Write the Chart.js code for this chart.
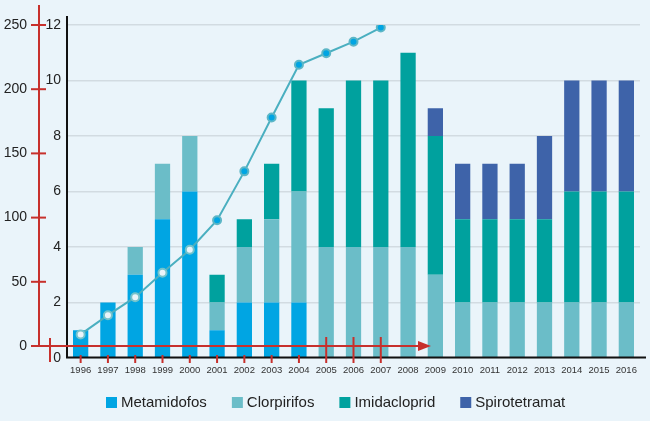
<!DOCTYPE html>
<html>
<head>
<meta charset="utf-8">
<script src="https://cdn.jsdelivr.net/npm/chart.js@4"></script>
<style>
  body { margin: 0; background: #eaf4fa; }
  #wrap { width: 650px; height: 421px; position: relative; }
</style>
</head>
<body>
<div id="wrap"><canvas id="myChart"></canvas></div>
<script>
'use strict';

// categories
const years = ['1996','1997','1998','1999','2000','2001','2002','2003','2004','2005','2006',
  '2007','2008','2009','2010','2011','2012','2013','2014','2015','2016'];

// stacked bars (left axis, 0-12)
const metamidofos   = [1,2,3,5,6,1,2,2,2,0,0,0,0,0,0,0,0,0,0,0,0];
const clorpirifos   = [0,0,1,2,2,1,2,3,4,4,4,4,4,3,2,2,2,2,2,2,2];
const imidacloprid  = [0,0,0,0,0,1,1,2,4,5,6,6,7,5,3,3,3,3,4,4,4];
const spirotetramat = [0,0,0,0,0,0,0,0,0,0,0,0,0,1,2,2,2,3,4,4,4];

// line (red axis, 0-250)
const lineValues = [9,24,38,57,75,98,136,178,219,228,237,248,
  null,null,null,null,null,null,null,null,null];

// tick labels
const redTicks = [0, 50, 100, 150, 200, 250];
const leftMax = 12;
const leftStep = 2;

const FONT = "'Liberation Sans', Arial, sans-serif";
const RED = '#c7302c';
const BG = '#eaf4fa';

let colors = {
  'Metamidofos': '#00a5e3',
  'Clorpirifos': '#6bbdc8',
  'Imidacloprid': '#00a19e',
  'Spirotetramat': '#3e63a9'
};

function barSet(label, data){
  return {
    type: 'bar',
    label: label,
    data: data,
    backgroundColor: colors[label],
    yAxisID: 'y',
    order: 1,
    barPercentage: 0.56,
    categoryPercentage: 1
  };
}

// black axes + red second axis drawn over the bars
const axesPlugin = {
  id: 'axesPlugin',
  afterDatasetsDraw(chart){
    const ctx = chart.ctx;
    const area = chart.chartArea;
    const xs = chart.scales.x;
    const y2 = chart.scales.y2;
    ctx.save();

    // black axes
    ctx.strokeStyle = '#111';
    ctx.lineWidth = 2;
    ctx.beginPath();
    ctx.moveTo(area.left, 16);
    ctx.lineTo(area.left, area.bottom);
    ctx.moveTo(area.left - 1, area.bottom - 0.5);
    ctx.lineTo(646, area.bottom - 0.5);
    ctx.stroke();

    // red vertical axis
    const axisX = 39;
    const zeroY = y2.getPixelForValue(0);
    ctx.strokeStyle = RED;
    ctx.beginPath();
    ctx.moveTo(axisX, 5);
    ctx.lineTo(axisX, zeroY);
    ctx.stroke();

    ctx.font = '14px ' + FONT;
    ctx.fillStyle = '#222';
    ctx.textAlign = 'right';
    ctx.textBaseline = 'middle';
    for(let i = 0; i < redTicks.length; i++){
      let ty = y2.getPixelForValue(redTicks[i]);
      ctx.beginPath();
      ctx.moveTo(31, ty);
      ctx.lineTo(46, ty);
      ctx.stroke();
      ctx.fillText(String(redTicks[i]), 27, ty);
    }

    // red horizontal arrow
    ctx.beginPath();
    ctx.moveTo(31, zeroY);
    ctx.lineTo(420, zeroY);
    ctx.stroke();
    ctx.fillStyle = RED;
    ctx.beginPath();
    ctx.moveTo(418, zeroY - 5);
    ctx.lineTo(431, zeroY);
    ctx.lineTo(418, zeroY + 5);
    ctx.closePath();
    ctx.fill();

    // origin mark
    ctx.beginPath();
    ctx.moveTo(50, zeroY - 8);
    ctx.lineTo(50, zeroY + 16);
    ctx.stroke();

    // year ticks where the line has data
    for(let i = 0; i < lineValues.length; i++){
      if(lineValues[i] === null) continue;
      let tx = xs.getPixelForValue(i);
      ctx.beginPath();
      ctx.moveTo(tx, i >= 9 ? zeroY - 9 : area.bottom - 3);
      ctx.lineTo(tx, area.bottom + 5);
      ctx.stroke();
    }
    ctx.restore();
  },
  afterDraw(chart){
    // legend for the bar series
    const ctx = chart.ctx;
    ctx.save();
    ctx.font = '15px ' + FONT;
    ctx.textAlign = 'left';
    ctx.textBaseline = 'middle';
    let lx = 106;
    const ly = 403;
    chart.data.datasets.forEach(function(ds){
      if(ds.type !== 'bar') return;
      ctx.fillStyle = ds.backgroundColor;
      ctx.fillRect(lx, ly - 6, 11, 11);
      ctx.fillStyle = '#222';
      ctx.fillText(ds.label, lx + 15, ly);
      lx += 15 + ctx.measureText(ds.label).width + 25;
    });
    ctx.restore();
  }
};

const chartCtx = document.getElementById('myChart');

new Chart(chartCtx, {
  data: {
    labels: years,
    datasets: [
      {
        type: 'line',
        label: 'Total',
        data: lineValues,
        yAxisID: 'y2',
        order: 0,
        borderColor: '#4aafc0',
        borderWidth: 2,
        tension: 0,
        pointRadius: 4,
        pointHoverRadius: 4,
        pointBorderWidth: 2,
        pointBorderColor: function(c){ return c.dataIndex < 5 ? '#74c3cc' : '#5db6c6'; },
        pointBackgroundColor: function(c){ return c.dataIndex < 5 ? BG : '#00a5e3'; }
      },
      barSet('Metamidofos', metamidofos),
      barSet('Clorpirifos', clorpirifos),
      barSet('Imidacloprid', imidacloprid),
      barSet('Spirotetramat', spirotetramat)
    ]
  },
  options: {
    responsive: true,
    maintainAspectRatio: false,
    animation: false,
    layout: { padding: { left: 37, top: 25, right: 10, bottom: 0 } },
    plugins: {
      legend: { display: false },
      tooltip: { enabled: false }
    },
    scales: {
      x: {
        stacked: true,
        offset: true,
        grid: { display: false, drawTicks: false },
        border: { display: false },
        ticks: {
          autoSkip: false,
          maxRotation: 0,
          padding: 7,
          color: '#333',
          font: { family: FONT, size: 9.5 }
        },
        afterFit: function(scale){ scale.height = 63; }
      },
      y: {
        stacked: true,
        min: 0,
        max: leftMax,
        grid: { color: '#d2dbe1', lineWidth: 1.5, drawTicks: false },
        border: { display: false },
        ticks: {
          stepSize: leftStep,
          padding: 6,
          color: '#222',
          font: { family: FONT, size: 14 }
        },
        afterFit: function(scale){ scale.width = 30; }
      },
      y2: {
        display: false,
        stacked: false,
        min: -9.35,
        max: 250
      }
    }
  },
  plugins: [axesPlugin]
});
</script>
</body>
</html>
